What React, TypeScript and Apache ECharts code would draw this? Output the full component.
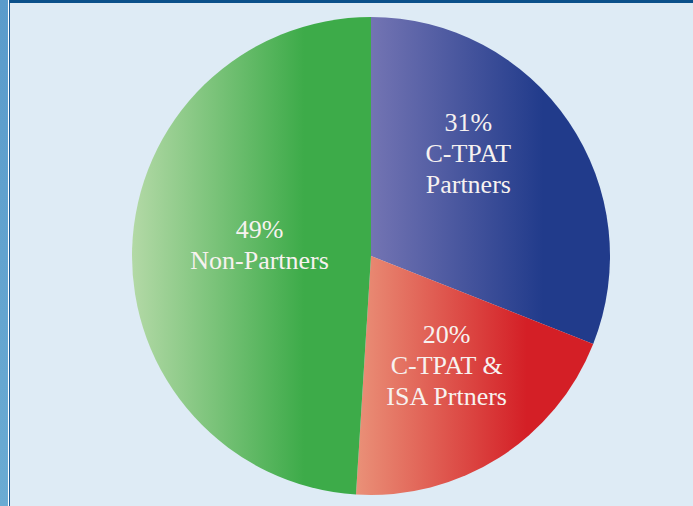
import React, { useEffect, useRef } from "react";
import * as echarts from "echarts";

const sliceNames = ["C-TPAT\nPartners", "C-TPAT &\nISA Prtners", "Non-Partners"];
const sliceValues = [31, 20, 49];
const sliceLightColors = ["#7374b3", "#ea9178", "#b3d9a6"];
const sliceDarkColors = ["#213b8b", "#d41f26", "#3dab49"];
const labelOffsets: [number, number][] = [[-4, -34], [10, 6], [11, -7]];

export default function App() {
  const ref = useRef<HTMLDivElement>(null);
  useEffect(() => {
    document.body.style.margin = "0";
    const chart = echarts.init(ref.current!, null, { renderer: "svg" });
    const data = sliceValues.map((v, i) => ({
      value: v,
      name: sliceNames[i],
      itemStyle: {
        color: new echarts.graphic.LinearGradient(0, 0, 1, 0, [
          { offset: 0, color: sliceLightColors[i] },
          { offset: 0.72, color: sliceDarkColors[i] },
          { offset: 1, color: sliceDarkColors[i] },
        ]),
      },
      label: { offset: labelOffsets[i] },
    }));
    chart.setOption({
      animation: false,
      backgroundColor: "transparent",
      series: [
        {
          type: "pie",
          center: [362, 256],
          radius: 239,
          startAngle: 90,
          clockwise: true,
          data,
          label: {
            show: true,
            position: "inside",
            formatter: (p: any) => `${p.value}%\n${p.name}`,
            color: "#f7f2f0",
            fontFamily: "'Liberation Serif', 'DejaVu Serif', serif",
            fontSize: 26,
            lineHeight: 31,
            align: "center",
          },
          labelLine: { show: false },
          emphasis: { disabled: true },
        },
      ],
    });
    return () => chart.dispose();
  }, []);
  return (
    <div style={{ position: "absolute", left: 0, top: 0, width: 693, height: 506, background: "#deebf5", overflow: "hidden" }}>
      <div style={{ position: "absolute", left: 0, top: 0, width: 8, height: 506, background: "linear-gradient(#5a9bcb, #6aabd3)" }} />
      <div style={{ position: "absolute", left: 8, top: 0, width: 1, height: 506, background: "#ffffff" }} />
      <div style={{ position: "absolute", left: 9, top: 0, width: 1, height: 506, background: "#1c5a95" }} />
      <div style={{ position: "absolute", left: 9, top: 0, width: 684, height: 3, background: "#0b508a" }} />
      <div ref={ref} style={{ position: "absolute", left: 9, top: 0, width: 684, height: 506 }} />
    </div>
  );
}
